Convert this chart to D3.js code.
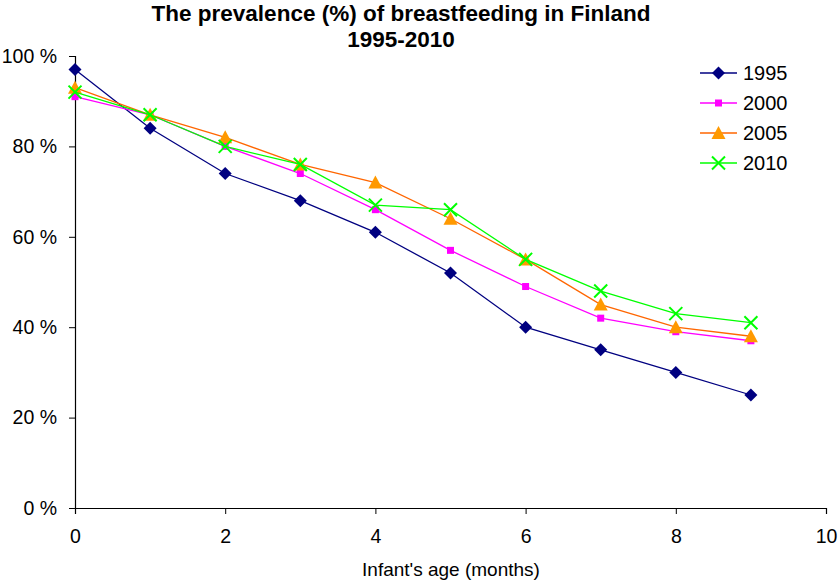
<!DOCTYPE html>
<html>
<head>
<meta charset="utf-8">
<script src="https://cdn.jsdelivr.net/npm/d3@7.9.0/dist/d3.min.js"></script>
<style>
  body { margin: 0; background: #fff; }
  svg { display: block; font-family: "Liberation Sans", Arial, sans-serif; }
</style>
</head>
<body>
<svg id="chart" width="839" height="584"></svg>
<script>
// months of infant age
const months = [0, 1, 2, 3, 4, 5, 6, 7, 8, 9];

// prevalence (%) per survey year
const y1995 = [97, 84, 74, 68, 61, 52, 40, 35, 30, 25];
const y2000 = [91, 87, 80, 74, 66, 57, 49, 42, 39, 37];
const y2005 = [93, 87, 82, 76, 72, 64, 55, 45, 40, 38];
const y2010 = [92, 87, 80, 76, 67, 66, 55, 48, 43, 41];

const seriesNames = ['1995', '2000', '2005', '2010'];
const xTicks = [0, 2, 4, 6, 8, 10];
const yTicks = [0, 20, 40, 60, 80, 100];

const series = [
  { name: '1995', values: y1995, line: '#000080', fill: '#000080', marker: 'diamond' },
  { name: '2000', values: y2000, line: '#FF00FF', fill: '#FF00FF', marker: 'square' },
  { name: '2005', values: y2005, line: '#FF6600', fill: '#FF9900', marker: 'triangle' },
  { name: '2010', values: y2010, line: '#00FF00', fill: '#00FF00', marker: 'cross' }
];

const margin = { top: 56, right: 13, bottom: 76, left: 75 };
const width = 839, height = 584;

const svg = d3.select('#chart');

const x = d3.scaleLinear().domain([0, 10]).range([margin.left, width - margin.right]);
const y = d3.scaleLinear().domain([0, 100]).range([height - margin.bottom, margin.top]);

// title
svg.append('text')
  .attr('x', 401).attr('y', 21)
  .attr('text-anchor', 'middle')
  .attr('font-weight', 'bold').attr('font-size', 22.5)
  .text('The prevalence (%) of breastfeeding in Finland');
svg.append('text')
  .attr('x', 401).attr('y', 47)
  .attr('text-anchor', 'middle')
  .attr('font-weight', 'bold').attr('font-size', 22.5)
  .text('1995-2010');

// axes
const xAxis = svg.append('g')
  .attr('transform', `translate(0,${y(0)})`)
  .call(d3.axisBottom(x).tickValues(xTicks).tickSize(6).tickPadding(15).tickFormat(d3.format('d')));
const yAxis = svg.append('g')
  .attr('transform', `translate(${x(0)},0)`)
  .call(d3.axisLeft(y).tickValues(yTicks).tickSize(6).tickPadding(12).tickFormat(d => d + ' %'));

[xAxis, yAxis].forEach(g => {
  g.select('.domain').attr('stroke', '#000').attr('stroke-width', 1.2);
  g.selectAll('.tick line').attr('stroke', '#000');
  g.selectAll('text').attr('font-size', 19.5).attr('fill', '#000')
    .attr('font-family', '"Liberation Sans", Arial, sans-serif');
});

svg.append('text')
  .attr('x', 451).attr('y', 576)
  .attr('text-anchor', 'middle')
  .attr('font-size', 19)
  .text("Infant's age (months)");

function drawMarker(g, type, color) {
  if (type === 'diamond') {
    g.append('path').attr('d', 'M0,-6.5L6.5,0L0,6.5L-6.5,0Z').attr('fill', color);
  } else if (type === 'square') {
    g.append('rect').attr('x', -3.5).attr('y', -3.5).attr('width', 7).attr('height', 7).attr('fill', color);
  } else if (type === 'triangle') {
    g.append('path').attr('d', 'M0,-7L7,6L-7,6Z').attr('fill', color);
  } else {
    g.append('path').attr('d', 'M-6.5,-6.5L6.5,6.5M-6.5,6.5L6.5,-6.5').attr('stroke', color).attr('stroke-width', 2).attr('fill', 'none');
  }
}

const line = d3.line().x((d, i) => x(months[i])).y(d => y(d));

series.forEach(s => {
  svg.append('path')
    .datum(s.values)
    .attr('d', line)
    .attr('fill', 'none')
    .attr('stroke', s.line)
    .attr('stroke-width', 1.3);
  s.values.forEach((v, i) => {
    const g = svg.append('g').attr('transform', `translate(${x(months[i])},${y(v)})`);
    drawMarker(g, s.marker, s.fill);
  });
});

// legend
const legend = svg.append('g');
series.forEach((s, i) => {
  const ly = 73 + i * 30;
  legend.append('line')
    .attr('x1', 700).attr('x2', 737).attr('y1', ly).attr('y2', ly)
    .attr('stroke', s.line).attr('stroke-width', 1.3);
  const g = legend.append('g').attr('transform', `translate(718.5,${ly})`);
  drawMarker(g, s.marker, s.fill);
  legend.append('text')
    .attr('x', 743).attr('y', ly + 7)
    .attr('font-size', 20)
    .text(seriesNames[i]);
});
</script>
</body>
</html>
